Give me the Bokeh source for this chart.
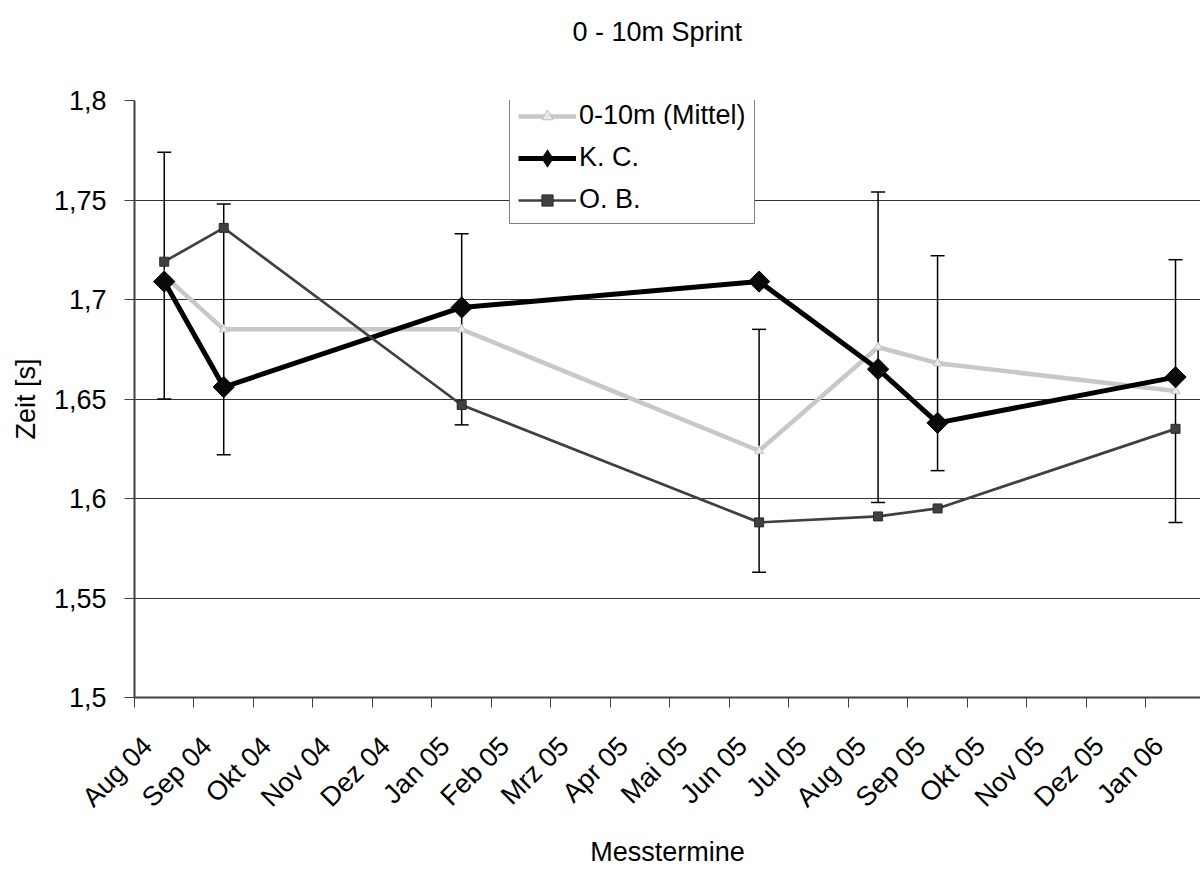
import math
from bokeh.plotting import figure
from bokeh.models import (ColumnDataSource, Range1d, FixedTicker, Whisker, TeeHead,
                          Legend, LegendItem, Title)
from bokeh.embed import file_html
from bokeh.resources import INLINE

# ---- data -------------------------------------------------------------
months = ["Aug 04", "Sep 04", "Okt 04", "Nov 04", "Dez 04", "Jan 05", "Feb 05",
          "Mrz 05", "Apr 05", "Mai 05", "Jun 05", "Jul 05", "Aug 05", "Sep 05",
          "Okt 05", "Nov 05", "Dez 05", "Jan 06"]
termine = ["Aug 04", "Sep 04", "Jan 05", "Jun 05", "Aug 05", "Sep 05", "Jan 06"]
mittel = [1.712, 1.685, 1.685, 1.624, 1.676, 1.668, 1.654]
mittel_sd = [0.062, 0.063, 0.048, 0.061, 0.078, 0.054, 0.066]
kc = [1.709, 1.656, 1.696, 1.709, 1.665, 1.638, 1.661]
ob = [1.719, 1.736, 1.647, 1.588, 1.591, 1.595, 1.635]
y_ticks = [1.5, 1.55, 1.6, 1.65, 1.7, 1.75, 1.8]
y_labels = ["1,5", "1,55", "1,6", "1,65", "1,7", "1,75", "1,8"]

FONT = "Liberation Sans"
FS = "27px"

xpos = [months.index(t) + 0.5 for t in termine]
src = ColumnDataSource(dict(
    x=xpos, mittel=mittel, kc=kc, ob=ob,
    upper=[m + s for m, s in zip(mittel, mittel_sd)],
    lower=[m - s for m, s in zip(mittel, mittel_sd)],
))

p = figure(width=1200, height=870, title=None,
           x_range=Range1d(0, 17.92), y_range=Range1d(1.5, 1.8),
           output_backend="svg", toolbar_location=None,
           min_border_left=134, min_border_right=0,
           min_border_top=100, min_border_bottom=173)
p.outline_line_color = None
p.background_fill_color = "white"

# spacer between frame and title, then the title itself
p.add_layout(Title(text=" ", text_font=FONT, text_font_size=FS, standoff=9), "above")
p.add_layout(Title(text="0 - 10m Sprint", align="left", offset=438,
                   text_font=FONT, text_font_size=FS, text_font_style="normal",
                   text_color="black", standoff=25), "above")

# x axis (labels centred in each month, tick marks between months)
label_shift = 0.22
xa = p.xaxis[0]
xa.ticker = FixedTicker(ticks=[i + label_shift for i in range(len(months))],
                        minor_ticks=list(range(len(months))))
xa.major_label_overrides = {i + label_shift: m for i, m in enumerate(months)}
xa.major_tick_out = 0
xa.major_tick_in = 0
xa.minor_tick_out = 10
xa.minor_tick_in = 0
xa.minor_tick_line_color = "#404040"
xa.minor_tick_line_width = 1
xa.major_label_orientation = math.pi / 4
xa.major_label_standoff = 34
xa.major_label_text_font = FONT
xa.major_label_text_font_size = FS
xa.major_label_text_color = "black"
xa.axis_line_color = "#404040"
xa.axis_line_width = 2
xa.axis_label = "Messtermine"
xa.axis_label_text_font = FONT
xa.axis_label_text_font_size = FS
xa.axis_label_text_font_style = "normal"
xa.axis_label_text_color = "black"
xa.axis_label_standoff = 11

# y axis
ya = p.yaxis[0]
ya.ticker = FixedTicker(ticks=y_ticks)
ya.major_label_overrides = {t: l for t, l in zip(y_ticks, y_labels)}
ya.major_tick_out = 10
ya.major_tick_in = 0
ya.major_tick_line_color = "#404040"
ya.minor_tick_line_color = None
ya.major_label_standoff = 18
ya.major_label_text_font = FONT
ya.major_label_text_font_size = FS
ya.major_label_text_color = "black"
ya.axis_line_color = "#404040"
ya.axis_line_width = 2
ya.axis_label = "Zeit [s]"
ya.axis_label_text_font = FONT
ya.axis_label_text_font_size = FS
ya.axis_label_text_font_style = "normal"
ya.axis_label_text_color = "black"
ya.axis_label_standoff = 10

p.xgrid.visible = False
p.ygrid.ticker = FixedTicker(ticks=y_ticks)
p.ygrid.grid_line_color = "#333333"
p.ygrid.grid_line_width = 1

# error bars (Mittel +/- SD)
wh = Whisker(source=src, base="x", upper="upper", lower="lower",
             line_color="black", line_width=1.5, level="underlay",
             upper_head=TeeHead(size=14, line_color="black", line_width=1.5),
             lower_head=TeeHead(size=14, line_color="black", line_width=1.5))
p.add_layout(wh)

# series
m_line = p.line("x", "mittel", source=src, line_color="#C8C8C8", line_width=4.5)
m_pts = p.scatter("x", "mittel", source=src, marker="triangle", size=9,
                  fill_color="#E8E8E8", line_color="#C0C0C0", line_width=1)

k_line = p.line("x", "kc", source=src, line_color="#000000", line_width=5)
# diamond symbol used for the legend (hidden under the larger markers below)
k_leg = p.scatter("x", "kc", source=src, marker="diamond", size=12,
                  fill_color="#0a0a0a", line_color="#0a0a0a", line_width=4,
                  line_join="miter")
k_pts = p.scatter("x", "kc", source=src, marker="square", angle=math.pi / 4, size=15,
                  fill_color="#0a0a0a", line_color="#000000", line_width=1)

o_line = p.line("x", "ob", source=src, line_color="#404040", line_width=2.7)
o_pts = p.scatter("x", "ob", source=src, marker="square", size=9,
                  fill_color="#404040", line_color="#2a2a2a", line_width=1)

lg = Legend(items=[
    LegendItem(label="0-10m (Mittel)", renderers=[m_line, m_pts]),
    LegendItem(label="K. C.", renderers=[k_line, k_leg]),
    LegendItem(label="O. B.", renderers=[o_line, o_pts]),
])
lg.location = (375, 473)
lg.label_text_font = FONT
lg.label_text_font_size = FS
lg.label_text_color = "black"
lg.glyph_width = 58
lg.glyph_height = 28
lg.label_standoff = 3
lg.spacing = 11
lg.padding = 8
lg.margin = 0
lg.border_line_color = "black"
lg.border_line_width = 1
lg.background_fill_color = "white"
lg.background_fill_alpha = 1.0
p.add_layout(lg, "center")

open("out.html", "w").write(file_html(p, INLINE))
